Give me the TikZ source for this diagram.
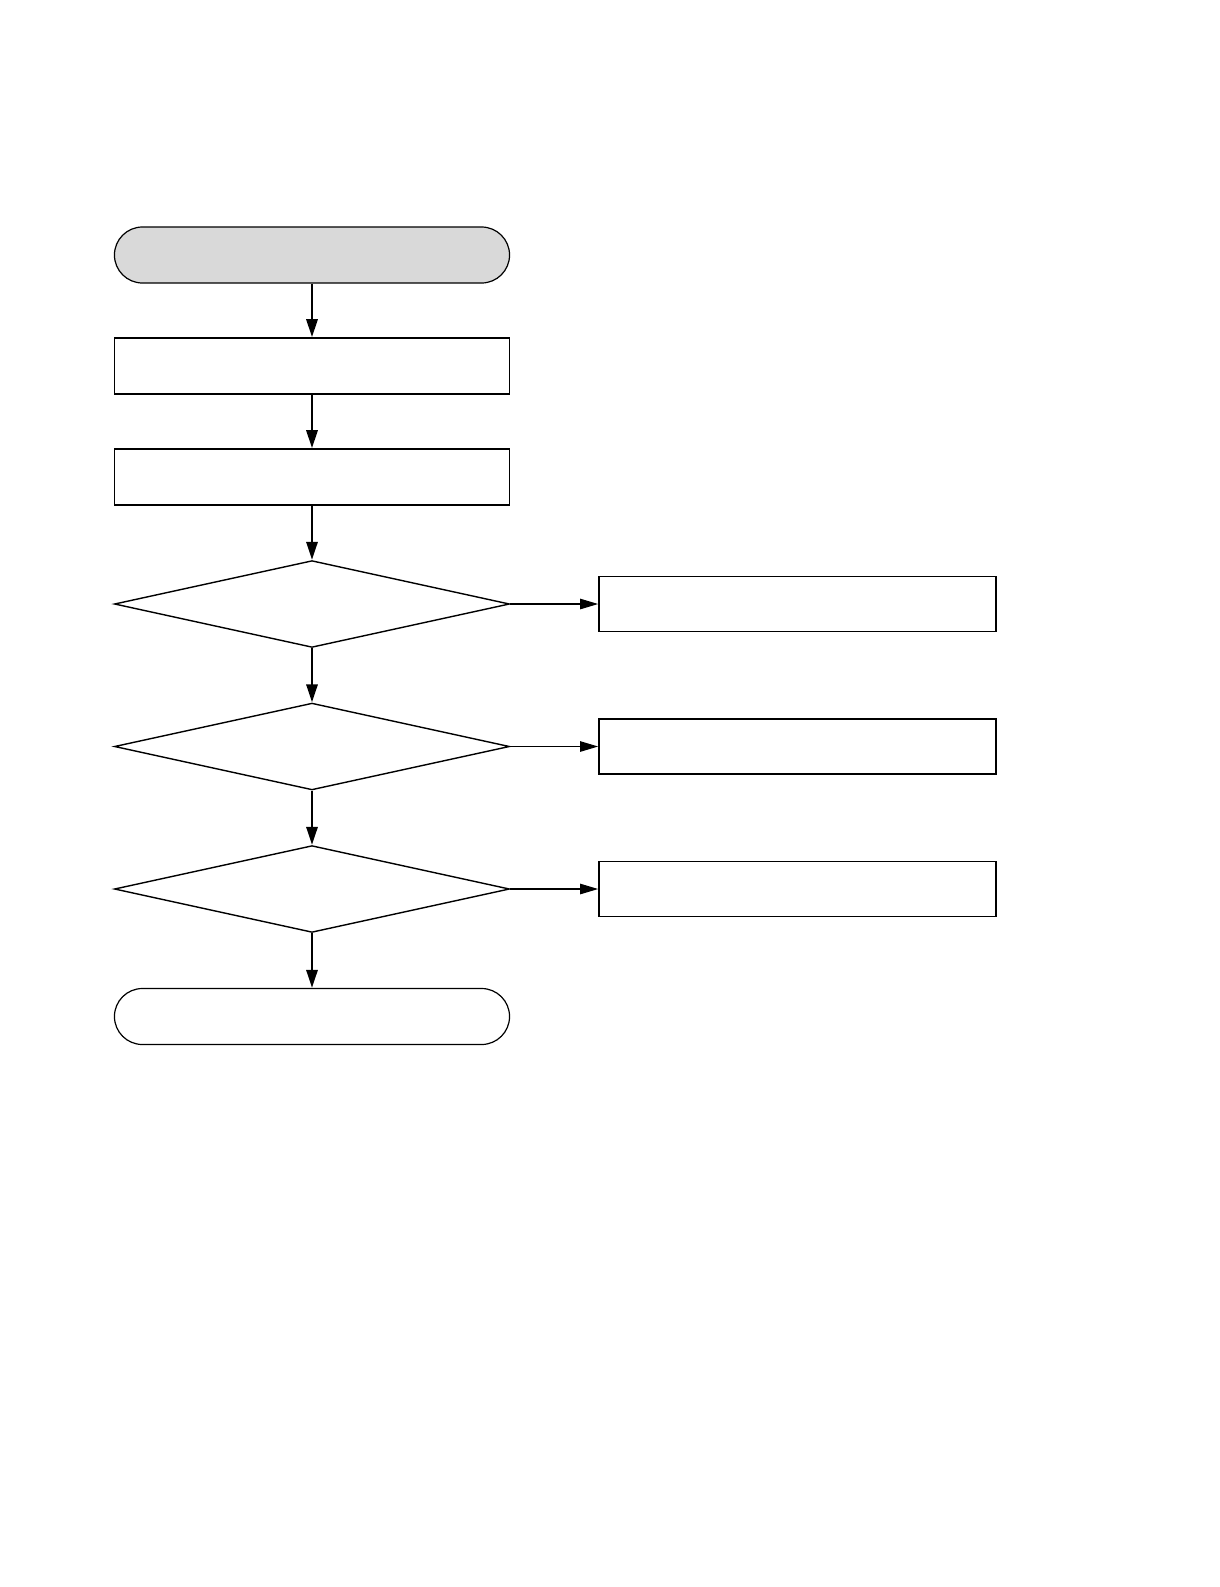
\documentclass[tikz,border=0pt]{standalone}
\usetikzlibrary{arrows.meta,shapes.geometric}
\begin{document}
\begin{tikzpicture}[x=0.025cm,y=-0.025cm,
  term/.style={draw,rectangle,rounded corners=0.7cm,minimum width=9.875cm,minimum height=1.4cm,inner sep=0pt,line width=0.03cm},
  stepbox/.style={draw,rectangle,minimum width=9.875cm,minimum height=1.4cm,inner sep=0pt,line width=0.04cm},
  sidebox/.style={stepbox,minimum width=9.925cm,minimum height=1.375cm},
  decision/.style={draw,diamond,minimum width=9.875cm,minimum height=2.17cm,inner sep=0pt,line width=0.035cm},
  flow/.style={-{Triangle[length=0.45cm,width=0.28cm]},line width=0.06cm},
  side/.style={-{Triangle[length=0.45cm,width=0.26cm]},line width=0.03cm}]
\useasboundingbox[fill=white] (0,0) rectangle (1219,1587);

% main column
\node[term,fill=gray!30] (start) at (312,255) {};
\node[stepbox] (prep) at (312,366) {};
\node[stepbox] (init) at (312,477) {};
\draw[flow] (start) -- (prep);
\draw[flow] (prep) -- (init);

% three checks, each with a branch to the right
\foreach \k/\y in {1/604,2/746.5,3/889} {
  \node[decision] (check\k) at (312,\y) {};
  \node[sidebox] (fix\k) at (797.5,\y) {};
  \draw[side] (check\k) -- (fix\k);
}
\draw[flow] (init) -- (check1);
\draw[flow] (check1) -- (check2);
\draw[flow] (check2) -- (check3);

% end
\node[term] (finish) at (312,1016.5) {};
\draw[flow] (check3) -- (finish);
\end{tikzpicture}
\end{document}
